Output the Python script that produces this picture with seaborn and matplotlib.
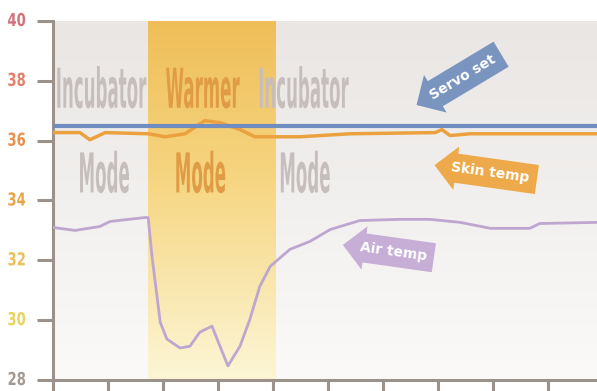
import numpy as np
import pandas as pd
import seaborn as sns
import matplotlib.pyplot as plt
from matplotlib.patheffects import AbstractPathEffect
from matplotlib.transforms import Affine2D

# temperatures (deg C), x in tick units
servo_x = [0.0, 9.9]
servo_t = [36.5, 36.5]

skin_x = [0.0, 0.49, 0.67, 0.95, 1.73, 2.04, 2.40, 2.76, 3.04, 3.40, 3.67, 4.49, 5.40, 6.95, 7.07, 7.22, 7.58, 9.9]
skin_t = [36.27, 36.27, 36.03, 36.27, 36.23, 36.13, 36.23, 36.67, 36.60, 36.37, 36.13, 36.13, 36.23, 36.27, 36.37, 36.17, 36.23, 36.23]

air_x = [0.0, 0.40, 0.85, 1.04, 1.67, 1.73, 1.80, 1.95, 2.07, 2.31, 2.49, 2.67, 2.89, 3.18, 3.40, 3.58, 3.76, 3.95,
         4.31, 4.67, 5.04, 5.58, 6.31, 6.85, 7.40, 7.95, 8.67, 8.85, 9.9]
air_t = [33.10, 33.00, 33.13, 33.30, 33.43, 33.43, 32.13, 29.93, 29.37, 29.07, 29.13, 29.60, 29.80, 28.47, 29.13,
         30.03, 31.13, 31.80, 32.37, 32.63, 33.03, 33.33, 33.37, 33.37, 33.27, 33.07, 33.07, 33.23, 33.27]

warmer_span = [1.73, 4.04]
y_ticks = [28, 30, 32, 34, 36, 38, 40]
tick_colors = ["#a49a94", "#e8d45c", "#e8c058", "#e8a448", "#e8904c", "#e2806c", "#d4707c"]


class Stretch(AbstractPathEffect):
    # tall, condensed lettering like the original artwork
    def __init__(self, sy):
        super().__init__()
        self.sy = sy

    def draw_path(self, renderer, gc, tpath, affine, rgbFace=None):
        m = affine.get_matrix()
        tx, ty = m[0, 2], m[1, 2]
        aff = affine + Affine2D().translate(-tx, -ty).scale(1, self.sy).translate(tx, ty)
        renderer.draw_path(gc, tpath, aff, rgbFace)


sns.set_theme(style="white")
plt.rcParams["font.family"] = ["DejaVu Sans"]

fig = plt.figure(figsize=(5.97, 3.91), dpi=100)
ax = fig.add_axes([53 / 597, 11 / 391, 544 / 597, 359 / 391])
xmax = 544 / 55

# background gradient
g = np.linspace(0, 1, 256)[:, None]
top = np.array([233, 230, 228]) / 255
bot = np.array([251, 250, 248]) / 255
bg = (top * (1 - g) + bot * g)[:, None, :].repeat(2, axis=1)
ax.imshow(bg, extent=[0, xmax, 28, 40], aspect="auto", zorder=0, origin="upper")

# warmer band gradient
bt = np.array([239, 190, 88]) / 255
bm = np.array([246, 214, 130]) / 255
bb = np.array([252, 246, 214]) / 255
gg = np.linspace(0, 1, 256)
band = np.where(gg[:, None] < 0.45,
                bt * (1 - gg[:, None] / 0.45) + bm * (gg[:, None] / 0.45),
                bm * (1 - (gg[:, None] - 0.45) / 0.55) + bb * ((gg[:, None] - 0.45) / 0.55))
band = band[:, None, :].repeat(2, axis=1)
ax.imshow(band, extent=[warmer_span[0], warmer_span[1], 28, 40], aspect="auto", zorder=1, origin="upper")

df_skin = pd.DataFrame({"x": skin_x, "t": skin_t})
df_servo = pd.DataFrame({"x": servo_x, "t": servo_t})
df_air = pd.DataFrame({"x": air_x, "t": air_t})
sns.lineplot(data=df_air, x="x", y="t", color="#bda6cf", lw=2, ax=ax, zorder=3)
sns.lineplot(data=df_skin, x="x", y="t", color="#eba23e", lw=2.5, ax=ax, zorder=3)
sns.lineplot(data=df_servo, x="x", y="t", color="#6f8dc0", lw=3, ax=ax, zorder=4)

# mode labels
gray = "#c6bebd"
orange = "#e09c44"
for x, txt, c in [(0.87, "Incubator", gray), (2.72, "Warmer", orange), (4.55, "Incubator", gray)]:
    ax.text(x, 37.1, txt, ha="center", va="baseline", fontsize=12, fontweight="bold", color=c, zorder=2,
            path_effects=[Stretch(3.3)])
for x, c in [(0.93, gray), (2.68, orange), (4.58, gray)]:
    ax.text(x, 34.27, "Mode", ha="center", va="baseline", fontsize=12, fontweight="bold", color=c, zorder=2,
            path_effects=[Stretch(3.3)])

# arrow callouts
arrows = [(7.45, 38.12, "Servo set", 31, "#7a94c0"),
          (7.95, 34.92, "Skin temp", -8, "#eda94a"),
          (6.18, 32.28, "Air temp", -8, "#c6aed6")]
for x, y, txt, rot, c in arrows:
    ax.text(x, y, txt, ha="center", va="center", rotation=rot, rotation_mode="anchor",
            fontsize=10, fontweight="bold", color="white", zorder=5,
            bbox=dict(boxstyle="larrow,pad=0.55", fc=c, ec="none"))

ax.set_xlim(0, xmax)
ax.set_ylim(28, 40)
ax.set_xticks(range(10))
ax.set_xticklabels([])
ax.set_yticks(y_ticks)
ax.set_yticklabels([str(v) for v in y_ticks])
for lab, c in zip(ax.get_yticklabels(), tick_colors):
    lab.set_color(c)
    lab.set_fontweight("bold")
    lab.set_fontsize(9.5)
    lab.set_path_effects([Stretch(1.35)])
ax.set_xlabel("")
ax.set_ylabel("")

spine_c = "#9c928c"
for s in ["top", "right"]:
    ax.spines[s].set_visible(False)
for s in ["left", "bottom"]:
    ax.spines[s].set_color(spine_c)
    ax.spines[s].set_linewidth(2.2)
ax.tick_params(axis="y", direction="out", length=11.5, width=2.2, color=spine_c, pad=8, left=True)
ax.tick_params(axis="x", direction="out", length=8, width=2.2, color=spine_c, bottom=True)

fig.savefig("out.png", dpi=100)
